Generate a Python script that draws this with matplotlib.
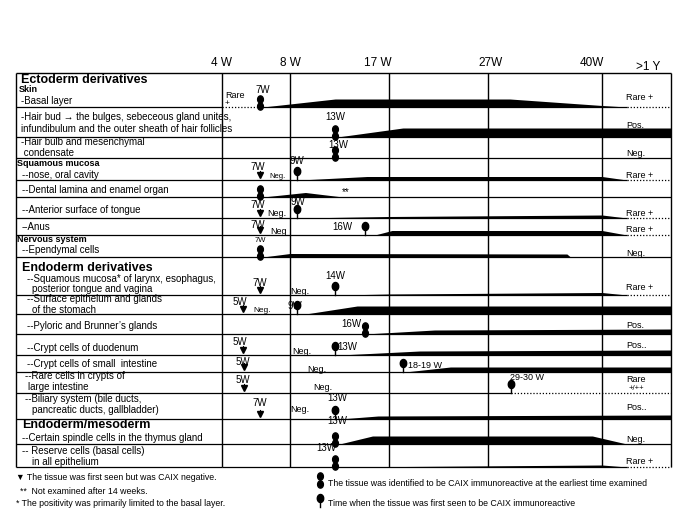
import numpy as np
import matplotlib.pyplot as plt

plt.rcParams['font.family'] = ['Liberation Sans', 'DejaVu Sans']

# time columns: weeks and where their rule sits on the page (px)
col_weeks = [4, 8, 17, 27, 40, 52]
col_px = [222, 290, 389, 488, 602, 671]
head_labels = ['4 W', '8 W', '17 W', '27W', '40W', '>1 Y']
head_x = [222, 290, 378, 491, 592, 648]
head_y = [63, 63, 63, 63, 63, 67]

# bottom edge of every table row (px)
row_bottom = [107, 137, 158, 180, 197, 218, 235, 257, 295, 314, 334, 355,
              372, 393, 419, 444, 467]
table_top = 73
table_left = 16

# row captions: text, style
label_text = [
    ("Ectoderm derivatives", 'h1'), ("Skin", 'h2'), ("-Basal layer", 'b'),
    ("-Hair bud \u2192 the bulges, sebeceous gland unites,", 'b'),
    ("infundibulum and the outer sheath of hair follicles", 'b'),
    ("-Hair bulb and mesenchymal", 'b'), (" condensate", 'b'),
    ("Squamous mucosa", 'h2'), ("--nose, oral cavity", 'b'),
    ("--Dental lamina and enamel organ", 'b'),
    ("--Anterior surface of tongue", 'b'), ("--Anus", 'b'),
    ("Nervous system", 'h2'), ("--Ependymal cells", 'b'),
    ("Endoderm derivatives", 'h1'),
    ("--Squamous mucosa* of larynx, esophagus,", 'b'),
    ("posterior tongue and vagina", 'b'),
    ("--Surface epithelum and glands", 'b'), ("of the stomach", 'b'),
    ("--Pyloric and Brunner\u2019s glands", 'b'),
    ("--Crypt cells of duodenum", 'b'),
    ("--Crypt cells of small  intestine", 'b'),
    ("--Rare cells in crypts of", 'b'), ("large intestine", 'b'),
    ("--Biliary system (bile ducts,", 'b'),
    ("pancreatic ducts, gallbladder)", 'b'),
    ("Endoderm/mesoderm", 'h1'),
    ("--Certain spindle cells in the thymus gland", 'b'),
    ("-- Reserve cells (basal cells)", 'b'), ("in all epithelium", 'b'),
]
label_pos = [(21, 80), (19, 90), (21, 101), (21, 117), (21, 129), (21, 142),
             (21, 153), (17, 163), (22, 175), (22, 190), (22, 210), (22, 227),
             (17, 239), (22, 250), (22, 268), (27, 279.5), (32, 289), (27, 299.5),
             (32, 310), (27, 326), (27, 348), (27, 364), (25, 376), (28, 387),
             (25, 399), (32, 410), (22, 425), (22, 438), (22, 451), (32, 462)]

# intensity bands: row -> (weeks, thickness px)
bands = {
    0: ([6.4, 12.1, 29.5, 40, 44.3], [0, 8, 8, 1.5, 0]),
    1: ([12.3, 18.4, 52], [0, 9, 9]),
    3: ([8.9, 15, 40, 44.3], [0, 3.5, 3.5, 0]),
    4: ([6.4, 9.4, 12.8], [0, 4.5, 0]),
    5: ([8.8, 17, 40, 44.3], [0, 1.5, 3, 0]),
    6: ([15.7, 17.3, 40, 44.3], [0, 4.5, 4.5, 0]),
    7: ([6.4, 8, 36, 36.4], [0, 3.5, 3, 0]),
    8: ([12.5, 17, 40, 44.3], [0, 1, 2.5, 0]),
    9: ([9.4, 14.1, 52], [0, 8, 8]),
    10: ([14.8, 21.6, 52], [0, 4, 5]),
    11: ([12.5, 20.1, 52], [0, 4, 5]),
    12: ([18.6, 23.2, 52], [0, 5, 5]),
    14: ([12.5, 16, 52], [0, 3, 4]),
    15: ([12.5, 15.5, 38.9, 44.3], [0, 8, 8, 0]),
    16: ([12.5, 40, 44.3], [0, 2, 0]),
}

# markers: (row, week)
double_dot = [(0, 6.24), (1, 12.1), (2, 12.1), (4, 6.24), (7, 6.24),
              (10, 14.8), (15, 12.1), (16, 12.1)]
single_dot = [(3, 8.64), (5, 8.64), (6, 14.8), (8, 12.1), (9, 8.64),
              (11, 12.1), (12, 18.4), (13, 29.6), (14, 12.1)]
neg_seen = [(3, 6.24), (5, 6.24), (6, 6.24), (8, 6.24), (9, 5.24),
            (11, 5.24), (12, 5.3), (13, 5.3), (14, 6.24)]

# notes in the time columns: text, row, week, px above row bottom, size
notes = [
    ("7W", 0, 6.41, 17, 7), ("Rare", 0, 4.75, 12, 6.5), ("+", 0, 4.3, 3, 6),
    ("13W", 1, 12.1, 20, 7), ("13W", 2, 12.4, 13, 7),
    ("7W", 3, 6.1, 13, 7), ("Neg.", 3, 7.24, 4, 5.5), ("9W", 3, 8.64, 19, 7),
    ("**", 4, 13.1, 5, 7),
    ("7W", 5, 6.1, 13, 7), ("Neg.", 5, 7.24, 5, 6.5), ("9W", 5, 8.7, 16, 7),
    ("7W", 6, 6.1, 10, 7), ("Neg", 6, 7.35, 3, 6.5), ("16W", 6, 12.8, 8, 7),
    ("7W", 7, 6.24, 16, 5.5),
    ("7W", 8, 6.2, 12, 7), ("Neg.", 8, 8.9, 3, 6.5), ("14W", 8, 12.1, 19, 7),
    ("5W", 9, 5.06, 12, 7), ("Neg.", 9, 6.35, 3, 6), ("9W", 9, 8.45, 8, 7),
    ("16W", 10, 13.6, 10, 7),
    ("5W", 11, 5.06, 13, 7), ("Neg.", 11, 9.1, 3, 6.5), ("13W", 11, 13.2, 8, 7),
    ("5W", 12, 5.24, 10, 7), ("Neg.", 12, 10.4, 3, 6.5),
    ("18-19 W", 12, 20.6, 7, 6.5),
    ("5W", 13, 5.24, 13, 7), ("Neg.", 13, 11.0, 6, 6.5),
    ("29-30 W", 13, 31.4, 15, 6.5),
    ("7W", 14, 6.2, 16, 7), ("Neg.", 14, 8.9, 9, 6.5), ("13W", 14, 12.3, 21, 7),
    ("13W", 15, 12.3, 23, 7), ("13W", 16, 11.3, 19, 7),
]

# status after one year: text, row, px above row bottom, size
late_status = [
    ("Rare +", 0, 9, 6.5), ("Pos.", 1, 12, 6.5), ("Neg.", 2, 4, 6.5),
    ("Rare +", 3, 5, 6.5), ("Rare +", 5, 5, 6.5), ("Rare +", 6, 5, 6.5),
    ("Neg.", 7, 4, 6.5), ("Rare +", 8, 7, 6.5), ("Pos.", 10, 8, 6.5),
    ("Pos..", 11, 9, 6.5), ("Rare", 13, 13, 6.5), ("+/++", 13, 4, 5.5),
    ("Pos..", 14, 11, 6.5), ("Neg.", 15, 5, 6.5), ("Rare +", 16, 6, 6.5),
]

# dotted stretches of the row rules (weeks)
dotted = {0: [(4, 6.2), (44.3, 52)], 3: [(44.3, 52)], 5: [(44.3, 52)],
          6: [(44.3, 52)], 8: [(44.3, 52)], 13: [(29.6, 52)], 16: [(44.3, 52)]}

legend_left = [
    ("\u25bc The tissue was first seen but was CAIX negative.", 16, 478),
    ("**  Not examined after 14 weeks.", 20, 491),
    ("* The positivity was primarily limited to the basal layer.", 16, 504),
]
legend_right = [
    ("The tissue was identified to be CAIX immunoreactive at the earliest time examined", 328, 484),
    ("Time when the tissue was first seen to be CAIX immunoreactive", 328, 504),
]


def fwd(w):
    return np.interp(w, col_weeks, col_px)


def inv(p):
    return np.interp(p, col_px, col_weeks)


t = np.linspace(0, 2 * np.pi, 40)
ellipse = np.column_stack([0.8 * np.cos(t), np.sin(t)])

fig = plt.figure(figsize=(6.85, 5.13), dpi=100)
ax = fig.add_axes([0, 0, 1, 1])
ax.set_xlim(0, 685)
ax.set_ylim(513, 0)
ax.axis('off')

tax = fig.add_axes([col_px[0] / 685, 0, (col_px[-1] - col_px[0]) / 685, 1])
tax.set_xscale('function', functions=(fwd, inv))
tax.set_xlim(col_weeks[0], col_weeks[-1])
tax.set_ylim(513, 0)
tax.axis('off')

# frame
ax.hlines(table_top, table_left, col_px[-1], color='k', lw=1)
ax.vlines(table_left, table_top, row_bottom[-1], color='k', lw=1)
tax.vlines(col_weeks, table_top, row_bottom[-1], color='k', lw=1, clip_on=False)

for x, y, s in zip(head_x, head_y, head_labels):
    ax.text(x, y, s, ha='center', va='center', fontsize=8.5)

# row rules
for i, yb in enumerate(row_bottom):
    ax.hlines(yb, table_left, col_px[0], color='k', lw=0.9)
    spans = dotted.get(i, [])
    edges = [col_weeks[0]]
    for a, b in spans:
        edges += [a, b]
    edges.append(col_weeks[-1])
    for a, b in zip(edges[0::2], edges[1::2]):
        if b > a:
            tax.hlines(yb, a, b, color='k', lw=0.9, clip_on=False)
    for a, b in spans:
        tax.hlines(yb, a, b, color='k', lw=0.9, linestyles=(0, (1, 1.5)),
                   clip_on=False)

# captions
styles = {'h1': dict(fontsize=9, fontweight='bold'),
          'h2': dict(fontsize=6.5, fontweight='bold'),
          'b': dict(fontsize=7)}
for (s, st), (x, y) in zip(label_text, label_pos):
    ax.text(x, y, s, ha='left', va='center', **styles[st])

# bands
for r, (wk, th) in bands.items():
    yb = row_bottom[r]
    tax.fill_between(wk, yb, yb - np.array(th), color='k', lw=0)

# markers
for r, w in double_dot:
    yb = row_bottom[r]
    tax.plot([w, w], [yb - 1.5, yb - 8], color='k', lw=1)
    tax.plot([w, w], [yb - 1.5, yb - 8], ls='none', marker=ellipse,
             ms=5.2, color='k')
for r, w in single_dot:
    yb = row_bottom[r]
    tax.plot([w, w], [yb, yb - 9], color='k', lw=1)
    tax.plot([w], [yb - 9], ls='none', marker=ellipse, ms=5.8, color='k')
for r, w in neg_seen:
    yb = row_bottom[r]
    tax.plot([w, w], [yb - 9, yb - 6], color='k', lw=0.8)
    tax.plot([w], [yb - 5], ls='none', marker='v', ms=4, color='k')

for s, r, w, dy, fs in notes:
    tax.text(w, row_bottom[r] - dy, s, ha='center', va='center', fontsize=fs)

for s, r, dy, fs in late_status:
    tax.text(44.2 if s != "+/++" else 44.6, row_bottom[r] - dy, s,
             ha='left', va='center', fontsize=fs)

# legend
for s, x, y in legend_left:
    ax.text(x, y, s, ha='left', va='center', fontsize=6.3)
for s, x, y in legend_right:
    ax.text(x, y, s, ha='left', va='center', fontsize=6.3)
ax.plot([320, 320], [476, 484], color='k', lw=1)
ax.plot([320, 320], [476, 484], ls='none', marker=ellipse, ms=5.2, color='k')
ax.plot([320, 320], [498, 507], color='k', lw=1)
ax.plot([320], [498], ls='none', marker=ellipse, ms=5.8, color='k')

fig.savefig('out.png', dpi=100)
